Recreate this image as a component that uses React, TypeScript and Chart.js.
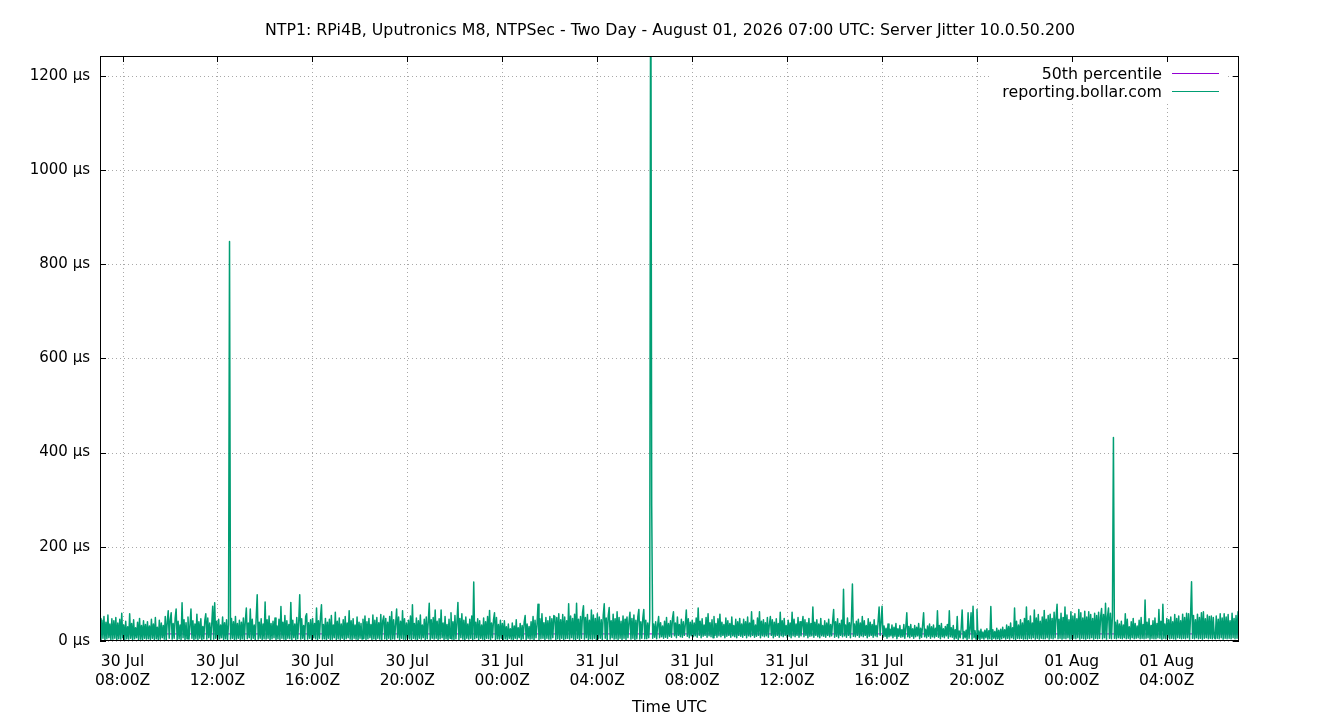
import React, { useEffect, useRef } from 'react';
import Chart from 'chart.js/auto';

const chartTitle =
  'NTP1: RPi4B, Uputronics M8, NTPSec - Two Day - August 01, 2026 07:00 UTC: Server Jitter 10.0.50.200';
const xAxisTitle = 'Time UTC';
const seriesLabels = ['50th percentile', 'reporting.bollar.com'];
const seriesColors = ['#9400d3', '#009e73'];

// x is in hours since 30 Jul 00:00Z
const startHour = 7.05;
const endHour = 55.05;

const xTickHours = [8, 12, 16, 20, 24, 28, 32, 36, 40, 44, 48, 52];
const xTickLabels = [
  ['30 Jul', '08:00Z'], ['30 Jul', '12:00Z'], ['30 Jul', '16:00Z'], ['30 Jul', '20:00Z'],
  ['31 Jul', '00:00Z'], ['31 Jul', '04:00Z'], ['31 Jul', '08:00Z'], ['31 Jul', '12:00Z'],
  ['31 Jul', '16:00Z'], ['31 Jul', '20:00Z'], ['01 Aug', '00:00Z'], ['01 Aug', '04:00Z'],
];
const yTickValues = [0, 200, 400, 600, 800, 1000, 1200];
const yMax = 1242;

const percentile50 = 15;

// server jitter in µs, one row per hour, 2.5 min samples
const jitterJul30Morning = [ // 07Z - 13Z
  [48,3,44,6,52,2,40,5,55,7,36,3,47,4,43,6,50,2,38,5,46,4,59,7],
  [34,3,42,5,30,4,58,6,37,2,45,5,28,7,40,3,48,4,33,2,43,6,35,4],
  [41,5,32,3,46,6,36,3,50,5,29,2,44,4,38,7,33,4,52,2,40,64,6,45],
  [60,4,37,6,48,68,3,42,5,34,3,81,7,45,2,39,5,51,4,33,68,6,43,3],
  [36,5,57,3,41,6,47,2,31,5,44,58,4,49,7,38,3,35,74,4,81,6,42,3],
  [46,5,34,7,51,3,39,5,45,2,36,848,4,48,6,41,3,52,4,37,6,44,2,40],
];
const jitterJul30Afternoon = [ // 13Z - 19Z
  [5,49,3,43,70,5,38,7,68,3,46,6,34,2,51,98,4,40,6,47,3,36,5,83],
  [4,45,6,53,2,37,5,42,7,49,3,32,5,46,3,73,6,40,4,54,2,43,6,35],
  [5,82,3,44,7,36,3,50,5,41,98,4,47,6,33,2,52,58,4,39,6,45,3,48],
  [7,37,5,70,3,43,6,51,77,4,35,5,48,2,40,6,46,3,54,4,34,7,61,3],
  [42,5,49,3,36,6,45,2,52,5,38,7,64,4,43,3,47,6,34,4,51,2,40,6],
  [37,4,46,6,53,3,41,5,48,7,35,3,55,5,44,2,50,6,39,4,56,3,43,53],
];
const jitterJul30Night = [ // 19Z - 01Z
  [5,48,3,40,6,52,2,62,5,45,4,36,68,7,51,3,42,6,64,4,47,3,38,6],
  [44,5,53,3,77,6,37,4,49,2,43,6,55,4,34,7,46,3,51,5,40,80,3,45],
  [6,50,4,66,6,42,3,47,5,66,7,38,3,52,5,35,2,46,6,60,4,41,3,54],
  [5,39,82,3,48,7,58,4,44,2,51,6,36,4,46,6,53,3,125,5,40,7,47,3],
  [43,6,34,4,49,2,41,6,52,5,65,3,38,7,45,60,3,50,5,35,4,44,6,37],
  [3,43,5,30,3,36,6,26,4,38,2,32,6,45,4,28,7,37,3,33,5,40,54,3],
];
const jitterJul31Early = [ // 01Z - 07Z
  [36,6,31,4,41,5,52,2,44,7,35,78,3,47,5,58,6,39,3,50,6,43,4,52],
  [4,47,7,54,52,3,50,5,58,3,45,6,56,2,51,5,43,6,79,4,53,7,48,4],
  [57,3,80,6,46,3,52,6,59,75,4,50,7,56,2,44,5,66,4,55,6,48,3,58],
  [5,51,6,45,3,55,79,6,49,2,53,71,4,43,7,57,4,47,5,62,3,50,6,42],
  [3,53,6,46,3,51,7,40,61,4,48,6,55,2,44,5,52,67,4,41,6,48,67,5],
  [44,5,38,7,46,1600,287,6,36,8,41,5,34,52,7,39,9,32,6,42,8,50,6,37],
];
const jitterJul31Day = [ // 07Z - 13Z
  [10,43,8,48,62,11,38,7,51,12,35,9,46,8,41,12,36,66,10,47,7,40,11,44],
  [9,38,11,49,8,70,12,42,7,47,10,34,12,50,8,58,11,39,9,45,7,52,12,37],
  [8,47,11,57,9,40,12,35,7,49,10,43,12,37,8,51,11,33,9,46,7,41,12,48],
  [10,36,8,46,12,41,7,51,11,38,9,62,12,44,8,34,10,49,12,62,7,42,11,45],
  [9,39,11,50,8,35,52,12,45,7,40,10,47,12,37,8,61,11,43,9,48,12,33,8],
  [44,10,38,7,61,11,46,9,36,12,50,8,41,11,34,52,9,45,12,39,7,48,10,37],
];
const jitterJul31Afternoon = [ // 13Z - 19Z
  [11,72,8,40,12,45,9,36,7,48,11,33,10,43,8,38,12,46,9,35,11,42,67,8],
  [41,10,47,7,37,12,44,9,110,11,34,8,49,12,39,7,45,121,10,36,9,42,12,46],
  [8,38,11,52,9,43,12,33,7,47,10,40,12,35,8,45,11,33,9,42,72,12,39,74],
  [8,32,10,27,6,36,9,25,11,34,7,29,10,37,5,26,10,33,8,24,9,35,6,29],
  [60,9,31,7,35,10,26,6,33,9,29,11,37,5,27,8,34,60,9,25,7,32,10,36],
  [6,30,9,34,7,27,10,64,8,33,5,37,9,26,7,31,11,35,6,64,9,28,8,33],
];
const jitterJul31Night = [ // 19Z - 01Z
  [4,24,6,52,3,21,7,26,66,5,20,7,23,3,60,6,25,60,4,74,7,22,4,67],
  [5,21,3,25,6,19,4,23,7,26,4,22,5,73,3,24,6,20,4,27,5,23,3,25],
  [5,29,7,24,4,34,6,31,4,38,7,28,5,70,3,42,6,34,5,45,6,38,4,48],
  [5,72,4,43,6,53,5,38,7,66,4,49,6,56,4,42,6,51,5,65,5,46,7,54],
  [4,57,6,48,5,61,7,52,78,5,46,6,59,4,50,6,72,5,55,7,45,4,62,5],
  [53,6,58,5,47,7,67,4,60,6,49,5,63,4,51,6,62,5,56,7,48,4,59,6],
];
const jitterAug01Early = [ // 01Z - 07Z
  [54,5,61,6,50,69,5,56,7,80,4,52,70,6,59,5,53,432,6,40,5,44,7,36],
  [6,42,5,34,7,58,5,46,6,30,4,41,7,48,5,37,6,32,7,44,5,50,6,35],
  [5,87,6,40,7,47,4,33,6,43,5,49,5,37,7,67,6,42,4,78,6,36,5,48],
  [7,45,5,51,6,41,5,56,4,48,7,53,6,43,5,57,6,50,5,59,7,58,4,52],
  [126,6,54,5,45,7,57,5,50,6,60,4,62,6,47,7,55,5,52,6,53,5,50,7],
  [5,53,6,46,5,58,7,49,4,58,6,51,5,56,6,43,5,59,7,48,5,54,6,62],
];
const lastSample = 12;

const jitterBlocks = [
  jitterJul30Morning, jitterJul30Afternoon, jitterJul30Night, jitterJul31Early,
  jitterJul31Day, jitterJul31Afternoon, jitterJul31Night, jitterAug01Early,
];

const jitterPoints: { x: number; y: number }[] = [];
jitterBlocks.forEach((block, b) =>
  block.forEach((hour, r) =>
    hour.forEach((v, j) => {
      jitterPoints.push({ x: startHour + b * 6 + r + j / hour.length, y: v });
    })
  )
);
jitterPoints.push({ x: endHour, y: lastSample });

const FONT_FAMILY = '"DejaVu Sans", sans-serif';

// gnuplot look: dotted grid, framed box with inward ticks, opaque key
const gnuplotFrame = {
  id: 'gnuplotFrame',
  beforeDatasetsDraw(chart: any) {
    const { ctx, chartArea: a, scales } = chart;
    const x = scales.x;
    const y = scales.y;
    ctx.save();
    ctx.strokeStyle = '#a8a8a8';
    ctx.lineWidth = 1;
    ctx.setLineDash([1, 3]);
    ctx.beginPath();
    yTickValues.forEach((v) => {
      const py = Math.round(y.getPixelForValue(v)) + 0.5;
      ctx.moveTo(a.left, py);
      ctx.lineTo(a.right, py);
    });
    xTickHours.forEach((h) => {
      const px = Math.round(x.getPixelForValue(h)) + 0.5;
      ctx.moveTo(px, a.top);
      ctx.lineTo(px, a.bottom);
    });
    ctx.stroke();
    ctx.setLineDash([]);
    ctx.fillStyle = '#ffffff';
    ctx.fillRect(a.right - 250, a.top + 1, 239, 44);
    ctx.restore();
  },
  afterDatasetsDraw(chart: any) {
    const { ctx, chartArea: a, scales } = chart;
    const x = scales.x;
    const y = scales.y;
    ctx.save();
    ctx.strokeStyle = '#000000';
    ctx.lineWidth = 1;
    ctx.strokeRect(a.left + 0.5, a.top + 0.5, a.right - a.left - 1, a.bottom - a.top - 1);

    ctx.beginPath();
    xTickHours.forEach((h) => {
      const px = Math.round(x.getPixelForValue(h)) + 0.5;
      ctx.moveTo(px, a.bottom);
      ctx.lineTo(px, a.bottom - 6);
      ctx.moveTo(px, a.top);
      ctx.lineTo(px, a.top + 6);
    });
    yTickValues.forEach((v) => {
      const py = Math.round(y.getPixelForValue(v)) + 0.5;
      ctx.moveTo(a.left, py);
      ctx.lineTo(a.left + 6, py);
      ctx.moveTo(a.right, py);
      ctx.lineTo(a.right - 6, py);
    });
    ctx.stroke();

    ctx.fillStyle = '#000000';
    ctx.textAlign = 'center';
    ctx.textBaseline = 'alphabetic';
    ctx.font = `15.8px ${FONT_FAMILY}`;
    ctx.fillText(chartTitle, 670, 35);
    ctx.fillText(xAxisTitle, (a.left + a.right) / 2, 712);

    ctx.font = `15.5px ${FONT_FAMILY}`;
    xTickHours.forEach((h, i) => {
      const px = x.getPixelForValue(h);
      ctx.fillText(xTickLabels[i][0], px, a.bottom + 25);
      ctx.fillText(xTickLabels[i][1], px, a.bottom + 44);
    });

    ctx.font = `15px ${FONT_FAMILY}`;
    ctx.textAlign = 'right';
    ctx.textBaseline = 'middle';
    yTickValues.forEach((v) => {
      ctx.fillText(`${v} µs`, a.left - 10, y.getPixelForValue(v));
    });

    // key
    ctx.font = `15.8px ${FONT_FAMILY}`;
    ctx.textBaseline = 'alphabetic';
    seriesLabels.forEach((label, i) => {
      const base = a.top + 23 + i * 18;
      ctx.fillStyle = '#000000';
      ctx.fillText(label, a.right - 77, base);
      ctx.strokeStyle = seriesColors[i];
      ctx.beginPath();
      ctx.moveTo(a.right - 67, base - 5.5);
      ctx.lineTo(a.right - 20, base - 5.5);
      ctx.stroke();
    });
    ctx.restore();
  },
};

const JitterChart: React.FC = () => {
  const canvasRef = useRef<HTMLCanvasElement>(null);
  const chartRef = useRef<Chart | null>(null);

  useEffect(() => {
    if (!canvasRef.current) return;
    if (chartRef.current) chartRef.current.destroy();

    chartRef.current = new Chart(canvasRef.current, {
      type: 'line',
      data: {
        datasets: [
          {
            label: seriesLabels[1],
            data: jitterPoints,
            borderColor: seriesColors[1],
            borderWidth: 1.5,
            borderJoinStyle: 'round',
            pointRadius: 0,
            tension: 0,
          },
          {
            label: seriesLabels[0],
            data: [
              { x: startHour, y: percentile50 },
              { x: endHour, y: percentile50 },
            ],
            borderColor: seriesColors[0],
            borderWidth: 1,
            pointRadius: 0,
          },
        ],
      },
      options: {
        responsive: false,
        animation: false,
        devicePixelRatio: 1,
        events: [],
        layout: { padding: { left: 100, right: 101, top: 56, bottom: 79 } },
        scales: {
          x: { type: 'linear', min: startHour, max: endHour, display: false },
          y: { type: 'linear', min: 0, max: yMax, display: false },
        },
        plugins: {
          legend: { display: false },
          title: { display: false },
          tooltip: { enabled: false },
        },
      },
      plugins: [gnuplotFrame],
    });

    return () => {
      if (chartRef.current) {
        chartRef.current.destroy();
        chartRef.current = null;
      }
    };
  }, []);

  return (
    <div style={{ position: 'absolute', left: 0, top: 0, width: 1340, height: 720, background: '#fff' }}>
      <canvas ref={canvasRef} width={1340} height={720} style={{ display: 'block' }} />
    </div>
  );
};

export default function App() {
  return <JitterChart />;
}
